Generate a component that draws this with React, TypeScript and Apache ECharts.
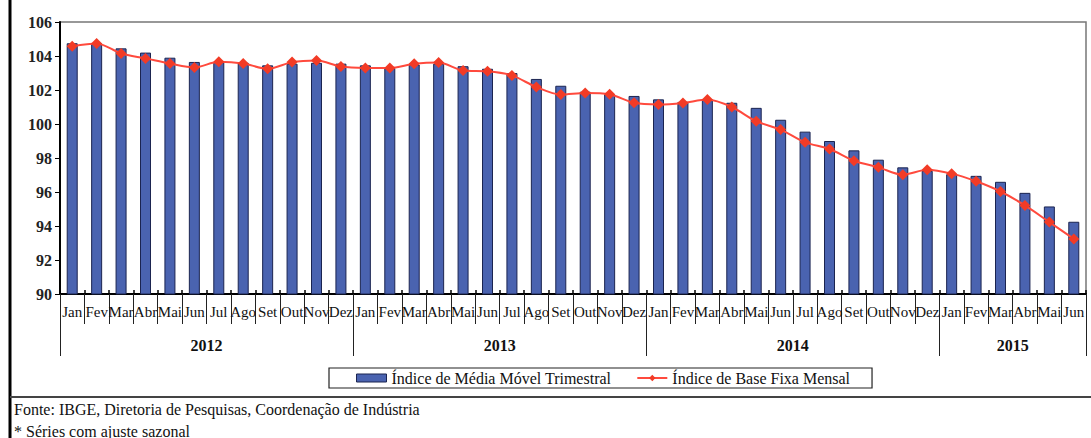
import React, { useEffect, useRef } from "react";
import * as echarts from "echarts";

const monthNames = ["Jan", "Fev", "Mar", "Abr", "Mai", "Jun", "Jul", "Ago", "Set", "Out", "Nov", "Dez"];
const years = ["2012", "2013", "2014", "2015"];
const monthsPerYear = [12, 12, 12, 6];

const mediaMovel = [
  104.75, 104.75, 104.45, 104.2, 103.9, 103.65, 103.65, 103.6, 103.45, 103.55, 103.6, 103.55,
  103.45, 103.3, 103.5, 103.55, 103.4, 103.25, 103.0, 102.65, 102.25, 101.9, 101.75, 101.65,
  101.45, 101.3, 101.45, 101.25, 100.95, 100.25, 99.55, 99.0, 98.45, 97.9, 97.45, 97.25,
  97.05, 96.95, 96.6, 95.95, 95.15, 94.25,
];

const baseFixa = [
  104.58, 104.74, 104.15, 103.86, 103.56, 103.33, 103.66, 103.56, 103.25, 103.64, 103.74, 103.38,
  103.3, 103.3, 103.54, 103.62, 103.15, 103.1, 102.86, 102.17, 101.73, 101.83, 101.75, 101.25,
  101.15, 101.24, 101.44, 101.0, 100.16, 99.67, 98.92, 98.53, 97.84, 97.45, 97.02, 97.31,
  97.08, 96.63, 96.03, 95.21, 94.23, 93.24,
];

const yTicks = { min: 90, max: 106, interval: 2 };

const serieBarName = "Índice de Média Móvel Trimestral";
const serieLineName = "Índice de Base Fixa Mensal";
const fonte = "Fonte: IBGE, Diretoria de Pesquisas, Coordenação de Indústria";
const nota = "* Séries com ajuste sazonal";

const categories: string[] = [];
monthsPerYear.forEach((n) => {
  for (let i = 0; i < n; i++) categories.push(monthNames[i]);
});
const monthBounds: number[] = [];
for (let i = 0; i <= categories.length; i++) monthBounds.push(i);
const yearBounds: number[] = [0];
const yearCenters: number[] = [];
monthsPerYear.forEach((n, i) => {
  const start = yearBounds[i];
  yearBounds.push(start + n);
  yearCenters.push(start + n / 2);
});

const FONT = "'Liberation Serif', serif";

export default function App() {
  const ref = useRef<HTMLDivElement>(null);
  useEffect(() => {
    if (!ref.current) return;
    const chart = echarts.init(ref.current, null, { renderer: "svg" });
    const boundAxis = (extra: any) => ({
      type: "value",
      min: 0,
      max: categories.length,
      position: "bottom",
      axisLine: { show: false },
      splitLine: { show: false },
      ...extra,
    });
    chart.setOption({
      animation: false,
      backgroundColor: "#fff",
      textStyle: { fontFamily: FONT },
      grid: { left: 60, right: 5, top: 22, bottom: 144, show: true, borderColor: "#777", borderWidth: 1.5 },
      legend: {
        left: 329,
        top: 368,
        itemGap: 25,
        padding: [2, 22, 2, 27],
        borderColor: "#222",
        borderWidth: 1.2,
        textStyle: { fontFamily: FONT, fontSize: 16, color: "#111" },
        data: [
          { name: serieBarName, icon: "rect", itemStyle: { color: "#4a63b0", borderColor: "#1b2450", borderWidth: 1 } },
          { name: serieLineName },
        ],
        itemWidth: 30,
        itemHeight: 8,
      },
      xAxis: [
        {
          type: "category",
          data: categories,
          position: "bottom",
          axisLine: { lineStyle: { color: "#000", width: 2 } },
          axisTick: { show: false },
          axisLabel: { interval: 0, margin: 10, fontSize: 15, fontFamily: FONT, color: "#111" },
        },
        boundAxis({
          axisLabel: { show: false },
          axisTick: { show: true, customValues: monthBounds, length: 30, lineStyle: { color: "#222", width: 1 } },
        }),
        boundAxis({
          axisLabel: { show: false },
          axisTick: { show: true, inside: true, customValues: monthBounds, length: 4, lineStyle: { color: "#000", width: 1.5 } },
        }),
        boundAxis({
          axisTick: { show: true, customValues: yearBounds, length: 62, lineStyle: { color: "#222", width: 1 } },
          axisLabel: {
            customValues: yearCenters,
            margin: 43,
            fontSize: 16,
            fontWeight: "bold",
            fontFamily: FONT,
            color: "#111",
            formatter: (v: number) => {
              const i = yearCenters.indexOf(v);
              return i >= 0 ? years[i] : "";
            },
          },
        }),
      ],
      yAxis: {
        type: "value",
        min: yTicks.min,
        max: yTicks.max,
        interval: yTicks.interval,
        axisLine: { show: true, lineStyle: { color: "#000", width: 2 } },
        axisTick: { show: true, length: 5, lineStyle: { color: "#000" } },
        splitLine: { show: false },
        axisLabel: { fontSize: 16, fontWeight: "bold", fontFamily: FONT, color: "#222", margin: 8 },
      },
      series: [
        {
          name: serieBarName,
          type: "bar",
          data: mediaMovel,
          barWidth: 11,
          itemStyle: { color: "#4a63b0", borderColor: "#1b2450", borderWidth: 1 },
        },
        {
          name: serieLineName,
          type: "line",
          data: baseFixa,
          smooth: 0.3,
          symbol: "diamond",
          symbolSize: 11,
          lineStyle: { color: "#ff4a3d", width: 2 },
          itemStyle: { color: "#f23b26" },
        },
      ],
      graphic: [
        { type: "line", shape: { x1: 10, y1: 0, x2: 10, y2: 438 }, style: { stroke: "#000", lineWidth: 3 } },
        { type: "line", shape: { x1: 10, y1: 397, x2: 1091, y2: 397 }, style: { stroke: "#444", lineWidth: 2 } },
        {
          type: "text",
          left: 14,
          top: 401,
          style: { text: fonte, font: "16px 'Liberation Serif', serif", fill: "#111" },
        },
        {
          type: "text",
          left: 14,
          top: 423,
          style: { text: nota, font: "16px 'Liberation Serif', serif", fill: "#111" },
        },
      ],
    });
    return () => chart.dispose();
  }, []);
  return <div ref={ref} style={{ position: "fixed", left: 0, top: 0, width: 1091, height: 438 }} />;
}
